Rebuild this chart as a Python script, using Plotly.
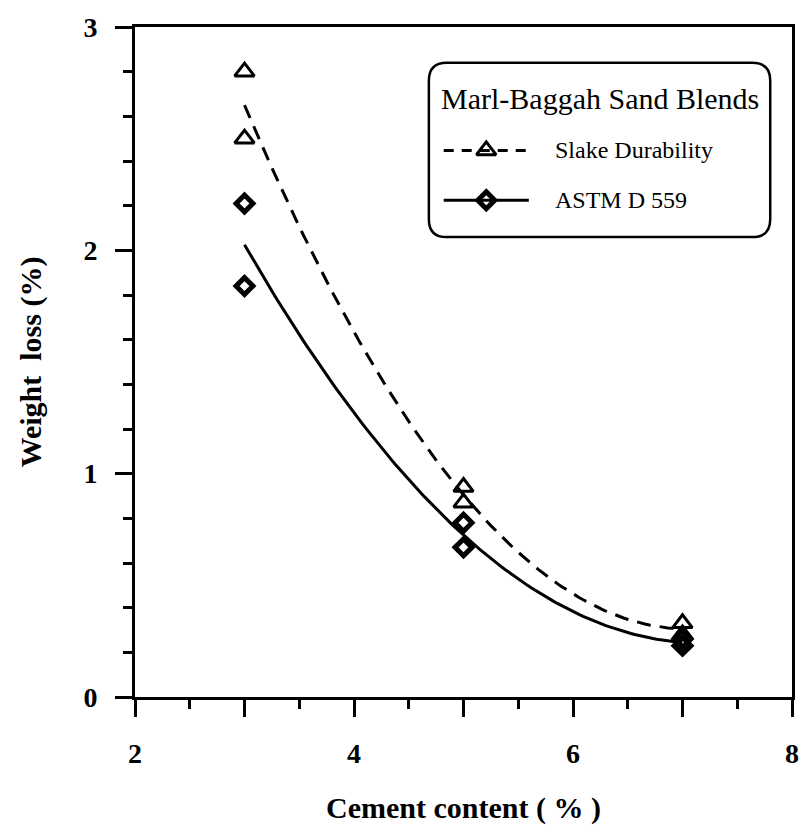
import numpy as np
import plotly.graph_objects as go

# ---- data ----
cement = [3, 3, 5, 5, 7, 7]
slake_loss = [2.80, 2.50, 0.94, 0.87, 0.33, 0.28]
astm_loss = [2.21, 1.84, 0.78, 0.67, 0.26, 0.23]

series_names = ["Slake Durability", "ASTM D 559"]
legend_title = "Marl-Baggah Sand Blends"
x_tickvals = [2, 3, 4, 5, 6, 7, 8]
x_ticktext = ["2", "", "4", "", "6", "", "8"]
y_tickvals = [0, 1, 2, 3]

SERIF = "Liberation Serif, Times New Roman, serif"

# second-order polynomial trend lines fitted to the data
xfit = np.linspace(min(cement), max(cement), 120)
slake_fit = np.polyval(np.polyfit(cement, slake_loss, 2), xfit)
astm_fit = np.polyval(np.polyfit(cement, astm_loss, 2), xfit)

TRI = dict(symbol="triangle-up-open", size=17, color="black", line=dict(color="black", width=3))
DIA = dict(symbol="diamond-open", size=13, color="black", line=dict(color="black", width=5))

fig = go.Figure()

fig.add_trace(go.Scatter(x=xfit, y=slake_fit, mode="lines", name=series_names[0],
                         line=dict(color="black", width=3, dash="14px,9px"),
                         showlegend=False, hoverinfo="skip"))
fig.add_trace(go.Scatter(x=xfit, y=astm_fit, mode="lines", name=series_names[1],
                         line=dict(color="black", width=3),
                         showlegend=False, hoverinfo="skip"))
fig.add_trace(go.Scatter(x=cement, y=slake_loss, mode="markers", name=series_names[0],
                         marker=TRI, showlegend=False))
fig.add_trace(go.Scatter(x=cement, y=astm_loss, mode="markers", name=series_names[1],
                         marker=DIA, showlegend=False))

# ---- custom legend drawn on a pixel-scaled overlay axis ----
L, R, T, B = 135, 799, 24, 697
fig.add_trace(go.Scatter(x=[490], y=[148], xaxis="x2", yaxis="y2", mode="markers",
                         marker=TRI, showlegend=False, hoverinfo="skip"))
fig.add_trace(go.Scatter(x=[490], y=[198], xaxis="x2", yaxis="y2", mode="markers",
                         marker=DIA, showlegend=False, hoverinfo="skip"))

bx0, bx1, by0, by1, rr = 432, 777, 60, 235, 18
box_path = (f"M {bx0+rr},{by0} L {bx1-rr},{by0} Q {bx1},{by0} {bx1},{by0+rr} "
            f"L {bx1},{by1-rr} Q {bx1},{by1} {bx1-rr},{by1} L {bx0+rr},{by1} "
            f"Q {bx0},{by1} {bx0},{by1-rr} L {bx0},{by0+rr} Q {bx0},{by0} {bx0+rr},{by0} Z")
fig.add_shape(type="path", path=box_path, xref="x2", yref="y2",
              line=dict(color="black", width=2.5), fillcolor="white", layer="below")
fig.add_shape(type="line", xref="x2", yref="y2", x0=447, x1=533, y0=148, y1=148,
              line=dict(color="black", width=3, dash="10px,8px"))
fig.add_shape(type="line", xref="x2", yref="y2", x0=447, x1=533, y0=198, y1=198,
              line=dict(color="black", width=3))
fig.add_annotation(x=605, y=96, xref="x2", yref="y2", text=legend_title, showarrow=False,
                   font=dict(family=SERIF, size=30, color="black"))
fig.add_annotation(x=557, y=148, xref="x2", yref="y2", text=series_names[0], showarrow=False,
                   xanchor="left", font=dict(family=SERIF, size=24, color="black"))
fig.add_annotation(x=557, y=198, xref="x2", yref="y2", text=series_names[1], showarrow=False,
                   xanchor="left", font=dict(family=SERIF, size=24, color="black"))

axis_common = dict(showline=True, linecolor="black", linewidth=3, mirror=True,
                   ticks="outside", ticklen=17, tickwidth=3, tickcolor="black",
                   showgrid=False, zeroline=False,
                   tickfont=dict(family=SERIF, size=28, color="black", weight="bold"))

fig.update_layout(
    width=811, height=833,
    margin=dict(l=L, r=811 - R, t=T, b=833 - B),
    paper_bgcolor="white", plot_bgcolor="white",
    showlegend=False,
    xaxis=dict(range=[2, 8], tickvals=x_tickvals, ticktext=x_ticktext,
               minor=dict(dtick=0.5, tick0=2, ticks="outside", ticklen=9, tickwidth=2.5,
                          tickcolor="black"),
               ticklabelstandoff=12,
               title=dict(text="Cement content ( % )", standoff=30,
                          font=dict(family=SERIF, size=30, color="black", weight="bold")),
               **axis_common),
    yaxis=dict(range=[0, 3], tickvals=y_tickvals,
               minor=dict(dtick=0.2, tick0=0, ticks="outside", ticklen=9, tickwidth=2.5,
                          tickcolor="black"),
               ticklabelstandoff=12,
               title=dict(text="Weight\u00a0 loss (%)", standoff=33,
                          font=dict(family=SERIF, size=30, color="black", weight="bold")),
               **axis_common),
    xaxis2=dict(overlaying="x", range=[L, R], visible=False, fixedrange=True),
    yaxis2=dict(overlaying="y", range=[B, T], visible=False, fixedrange=True),
)

fig.write_html("out.html")
